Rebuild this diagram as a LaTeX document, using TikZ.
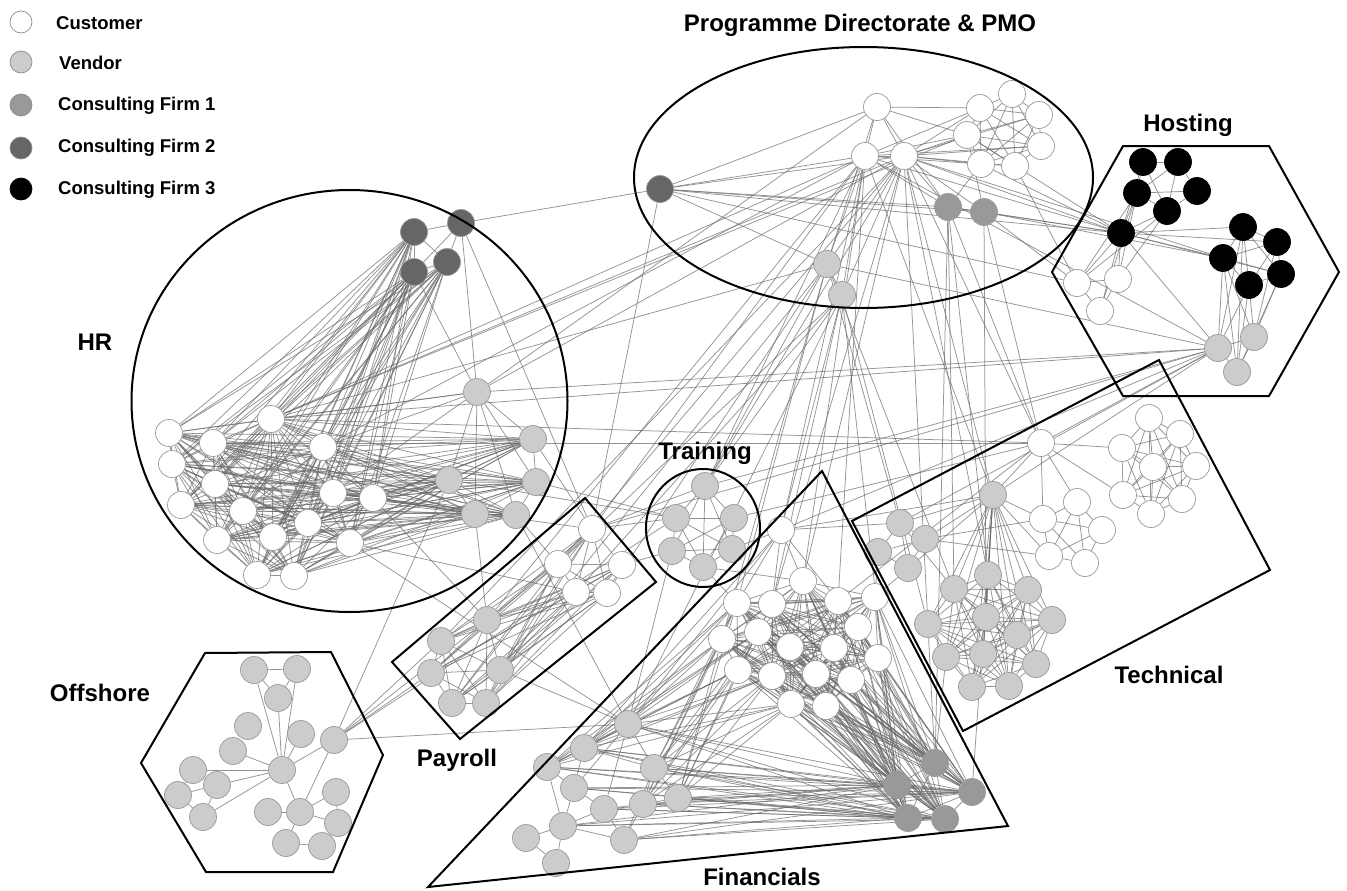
\documentclass[tikz,border=0pt]{standalone}
\usepackage{fontspec}
\setmainfont{Liberation Sans}
\usetikzlibrary{backgrounds}
\pgfdeclarelayer{edges}
\pgfsetlayers{background,edges,main}
\definecolor{cvend}{gray}{0.8}
\definecolor{cfone}{gray}{0.6}
\definecolor{cftwo}{gray}{0.4}
\definecolor{nbord}{gray}{0.6}
\definecolor{edgecol}{gray}{0.42}
\tikzset{
 nodebase/.style={circle, inner sep=0pt, minimum size=27pt, line width=0.7pt, draw=nbord},
 cust/.style={nodebase, fill=white},
 vend/.style={nodebase, fill=cvend},
 cfa/.style={nodebase, fill=cfone},
 cfb/.style={nodebase, fill=cftwo},
 cfc/.style={nodebase, fill=black, draw=black},
 lnk/.style={draw=edgecol, line width=0.75pt, draw opacity=0.72},
 grp/.style={draw=black, line width=2pt, line join=miter},
 grouplabel/.style={font=\bfseries\fontsize{24}{28}\selectfont, inner sep=0pt},
 legendtext/.style={font=\bfseries\fontsize{18.5}{22}\selectfont, anchor=west, inner sep=0pt},
 legendnode/.style={minimum size=22pt, draw=gray!90}
}
\newcommand{\AllPairs}[2]{\foreach \i in {1,...,#2}{\foreach \j in {1,...,#2}{\ifnum\i<\j\relax \draw[lnk] (#1\i) -- (#1\j);\fi}}}
\newcommand{\CrossLinks}[4]{\foreach \i in {#2}{\foreach \j in {#4}{\draw[lnk] (#1\i) -- (#3\j);}}}
\begin{document}
\begin{tikzpicture}[x=1pt,y=-1pt]
\useasboundingbox (0,0) rectangle (1347,891);
\begin{pgfonlayer}{background}
\fill[white] (0,0) rectangle (1347,891);
\end{pgfonlayer}

% Legend
\node[cust,legendnode] (lg1) at (21,22) {};
\node[vend,legendnode] (lg2) at (21,62) {};
\node[cfa,legendnode] (lg3) at (21,105) {};
\node[cfb,legendnode] (lg4) at (21,148) {};
\node[cfc,legendnode,draw=black] (lg5) at (21,189) {};
\node[legendtext] (lt1) at (56,23) {Customer};
\node[legendtext] (lt2) at (59,63) {Vendor};
\node[legendtext] (lt3) at (58,106) {Consulting Firm 1};
\node[legendtext] (lt4) at (58,148) {Consulting Firm 2};
\node[legendtext] (lt5) at (58,190) {Consulting Firm 3};

% PMO
\node[cust] (p1) at (877,107) {};
\node[cust] (p2) at (865,156) {};
\node[cust] (p3) at (904,156) {};
\node[cust] (pw1) at (980,108) {};
\node[cust] (pw2) at (1012,94) {};
\node[cust] (pw3) at (1039,115) {};
\node[cust] (pw4) at (967,135) {};
\node[cust] (pw5) at (1041,146) {};
\node[cust] (pw6) at (981,164) {};
\node[cust] (pw7) at (1015,166) {};
\node[cfb] (pk) at (660,189) {};
\node[cfa] (pm1) at (948,207) {};
\node[cfa] (pm2) at (984,212) {};
\node[vend] (pv1) at (827,264) {};
\node[vend] (pv2) at (842,295) {};

% Hosting
\node[cfc] (h1) at (1143,162) {};
\node[cfc] (h2) at (1178,162) {};
\node[cfc] (h3) at (1137,193) {};
\node[cfc] (h4) at (1197,191) {};
\node[cfc] (h5) at (1167,211) {};
\node[cfc] (h6) at (1121,233) {};
\node[cfc] (h7) at (1243,227) {};
\node[cfc] (h8) at (1277,242) {};
\node[cfc] (h9) at (1223,258) {};
\node[cfc] (h10) at (1281,274) {};
\node[cfc] (h11) at (1249,285) {};
\node[cust] (hw1) at (1077,283) {};
\node[cust] (hw2) at (1118,279) {};
\node[cust] (hw3) at (1100,311) {};
\node[vend] (hv1) at (1218,348) {};
\node[vend] (hv2) at (1254,337) {};
\node[vend] (hv3) at (1237,372) {};

% HR
\node[cfb] (r1) at (414,232) {};
\node[cfb] (r2) at (461,223) {};
\node[cfb] (r3) at (414,272) {};
\node[cfb] (r4) at (447,262) {};
\node[vend] (rv0) at (477,392) {};
\node[cust] (rw1) at (169,433) {};
\node[cust] (rw2) at (213,443) {};
\node[cust] (rw3) at (271,419) {};
\node[cust] (rw4) at (172,464) {};
\node[cust] (rw5) at (215,484) {};
\node[cust] (rw6) at (323,447) {};
\node[cust] (rw7) at (181,505) {};
\node[cust] (rw8) at (243,511) {};
\node[cust] (rw9) at (333,493) {};
\node[cust] (rw10) at (373,498) {};
\node[cust] (rw11) at (308,523) {};
\node[cust] (rw12) at (217,540) {};
\node[cust] (rw13) at (273,537) {};
\node[cust] (rw14) at (350,543) {};
\node[cust] (rw15) at (257,575) {};
\node[cust] (rw16) at (294,576) {};
\node[vend] (rv1) at (533,439) {};
\node[vend] (rv2) at (449,480) {};
\node[vend] (rv3) at (536,482) {};
\node[vend] (rv4) at (475,514) {};
\node[vend] (rv5) at (516,515) {};

% Payroll
\node[cust] (yw1) at (592,529) {};
\node[cust] (yw2) at (558,564) {};
\node[cust] (yw3) at (622,565) {};
\node[cust] (yw4) at (576,592) {};
\node[cust] (yw5) at (607,593) {};
\node[vend] (yv1) at (487,620) {};
\node[vend] (yv2) at (441,641) {};
\node[vend] (yv3) at (431,673) {};
\node[vend] (yv4) at (500,670) {};
\node[vend] (yv5) at (452,703) {};
\node[vend] (yv6) at (486,703) {};

% Training
\node[vend] (t1) at (705,486) {};
\node[vend] (t2) at (676,518) {};
\node[vend] (t3) at (734,518) {};
\node[vend] (t4) at (672,551) {};
\node[vend] (t5) at (732,549) {};
\node[vend] (t6) at (703,567) {};

% Financials
\node[cust] (fw0) at (781,530) {};
\node[cust] (fw1) at (803,581) {};
\node[cust] (fw2) at (737,603) {};
\node[cust] (fw3) at (772,604) {};
\node[cust] (fw4) at (838,601) {};
\node[cust] (fw5) at (875,597) {};
\node[cust] (fw6) at (722,639) {};
\node[cust] (fw7) at (758,632) {};
\node[cust] (fw8) at (790,647) {};
\node[cust] (fw9) at (834,648) {};
\node[cust] (fw10) at (858,627) {};
\node[cust] (fw11) at (878,658) {};
\node[cust] (fw12) at (738,670) {};
\node[cust] (fw13) at (772,676) {};
\node[cust] (fw14) at (816,674) {};
\node[cust] (fw15) at (851,680) {};
\node[cust] (fw16) at (791,704) {};
\node[cust] (fw17) at (826,706) {};
\node[cfa] (fc1) at (935,763) {};
\node[cfa] (fc2) at (897,785) {};
\node[cfa] (fc3) at (972,792) {};
\node[cfa] (fc4) at (908,818) {};
\node[cfa] (fc5) at (945,819) {};
\node[vend] (fv1) at (628,724) {};
\node[vend] (fv2) at (584,748) {};
\node[vend] (fv3) at (547,767) {};
\node[vend] (fv4) at (574,788) {};
\node[vend] (fv5) at (654,768) {};
\node[vend] (fv6) at (678,798) {};
\node[vend] (fv7) at (643,804) {};
\node[vend] (fv8) at (604,809) {};
\node[vend] (fv9) at (563,826) {};
\node[vend] (fv10) at (624,840) {};
\node[vend] (fv11) at (526,838) {};
\node[vend] (fv12) at (556,863) {};

% Technical
\node[cust] (tw0) at (1041,443) {};
\node[vend] (tv0) at (993,495) {};
\node[vend] (tl1) at (900,523) {};
\node[vend] (tl2) at (925,539) {};
\node[vend] (tl3) at (878,552) {};
\node[vend] (tl4) at (908,568) {};
\node[cust] (tp1) at (1077,502) {};
\node[cust] (tp2) at (1043,519) {};
\node[cust] (tp3) at (1102,530) {};
\node[cust] (tp4) at (1049,556) {};
\node[cust] (tp5) at (1085,563) {};
\node[cust] (tr1) at (1149,418) {};
\node[cust] (tr2) at (1122,448) {};
\node[cust] (tr3) at (1180,434) {};
\node[cust] (tr4) at (1153,467) {};
\node[cust] (tr5) at (1196,466) {};
\node[cust] (tr6) at (1123,495) {};
\node[cust] (tr7) at (1182,499) {};
\node[cust] (tr8) at (1151,514) {};
\node[vend] (tb1) at (988,575) {};
\node[vend] (tb2) at (954,589) {};
\node[vend] (tb3) at (1028,590) {};
\node[vend] (tb4) at (928,624) {};
\node[vend] (tb5) at (986,617) {};
\node[vend] (tb6) at (1052,620) {};
\node[vend] (tb7) at (1017,635) {};
\node[vend] (tb8) at (946,657) {};
\node[vend] (tb9) at (983,654) {};
\node[vend] (tb10) at (1036,664) {};
\node[vend] (tb11) at (972,687) {};
\node[vend] (tb12) at (1009,686) {};

% Offshore
\node[vend] (o1) at (254,670) {};
\node[vend] (o2) at (297,669) {};
\node[vend] (o3) at (278,698) {};
\node[vend] (o4) at (248,726) {};
\node[vend] (o5) at (301,734) {};
\node[vend] (o6) at (233,751) {};
\node[vend] (o7) at (334,740) {};
\node[vend] (o8) at (282,770) {};
\node[vend] (o9) at (193,770) {};
\node[vend] (o10) at (178,795) {};
\node[vend] (o11) at (217,785) {};
\node[vend] (o12) at (203,817) {};
\node[vend] (o13) at (268,812) {};
\node[vend] (o14) at (300,812) {};
\node[vend] (o15) at (336,792) {};
\node[vend] (o16) at (338,823) {};
\node[vend] (o17) at (286,843) {};
\node[vend] (o18) at (322,846) {};

\begin{pgfonlayer}{edges}
% PMO internal
\AllPairs{pw}{7}
\foreach \a/\b in {p1/p2,p1/p3,p1/pw1,p1/pw4,p1/pk,p1/pm1,p1/pv1,p2/p3,p2/pw1,p2/pw4,p2/pw5,p2/pw6,p3/pw1,p3/pw4,p3/pw6,p3/pw7,p3/pw5,p3/pw3,p2/pm1,p3/pm1,p3/pm2,p2/pv1,p3/pv1,p2/pv2,p3/pv2,pm1/pm2,pk/p2,pk/p3,pk/pm1,pk/pm2,pk/pv1,pv1/pv2,pw4/pm2,pw6/pm1}
  \draw[lnk] (\a) -- (\b);
% Hosting internal
\foreach \a/\b in {h1/h2,h1/h3,h1/h5,h2/h4,h2/h5,h3/h4,h3/h5,h3/h6,h4/h5,h5/h6,h1/h6,h2/h3,h6/h7,h6/h9,h6/h8,h6/h10,h7/h8,h7/h9,h7/h10,h7/h11,h8/h10,h8/h11,h9/h11,h9/h10,h10/h11,h8/h9,hw1/hw2,hw1/hw3,hw2/hw3,hw1/h6,hw2/h6,hw3/h6,hw1/h3,hw2/h5,hw3/h3,hw2/h3,hw1/h5,hv1/hv2,hv1/hv3,hv2/hv3,hv1/h9,hv1/h11,hv1/h7,hv2/h11,hv2/h10,hv2/h9,hv3/h9,hv3/h11,hv3/h7,hv1/h6,hv2/h8,hv3/h10}
  \draw[lnk] (\a) -- (\b);
% HR internal
\AllPairs{rw}{16}
\CrossLinks{rw}{1,...,16}{rv}{1,...,5}
\CrossLinks{r}{1,3,4}{rw}{1,...,16}
\foreach \a/\b in {r1/r2,r1/r3,r1/r4,r2/r3,r2/r4,r3/r4,r2/rv0,rv0/rv1,rv0/rv2,rv0/rv3,rv0/rv4,rv0/rv5,rv0/rw3,rv0/rw6,rv0/rw1,rv0/rw9,rv1/rv2,rv1/rv3,rv2/rv3,rv2/rv4,rv4/rv5,rv3/rv5,rv2/rv5,rv3/rv4,r3/rv0}
  \draw[lnk] (\a) -- (\b);
% Payroll internal
\AllPairs{yw}{5}
\AllPairs{yv}{6}
\CrossLinks{yw}{1,...,5}{yv}{1,...,6}
% Training internal
\AllPairs{t}{6}
% Financials internal
\AllPairs{fw}{17}
\AllPairs{fc}{5}
\CrossLinks{fc}{1,...,5}{fw}{1,...,17}
\CrossLinks{fv}{1,...,10}{fc}{2,3,4,5}
\CrossLinks{fv}{1,2,3,5,6,7}{fw}{2,6,12,7,13,16}
\foreach \a/\b in {fw0/fw1,fw0/fw2,fw0/fw3,fw0/fw4,fw0/fv1,fw0/fv2,fv1/fv2,fv1/fv5,fv1/fv4,fv1/fv3,fv1/fv8,fv2/fv3,fv2/fv4,fv3/fv4,fv3/fv9,fv4/fv8,fv4/fv9,fv5/fv6,fv5/fv7,fv6/fv7,fv7/fv8,fv8/fv10,fv9/fv10,fv9/fv11,fv9/fv12,fv11/fv12,fv9/fv8,fv5/fv10,fv7/fv10,fv2/fv5}
  \draw[lnk] (\a) -- (\b);
% Technical internal
\AllPairs{tb}{12}
\AllPairs{tp}{5}
\AllPairs{tr}{8}
\CrossLinks{tv}{0}{tb}{1,...,12}
\foreach \a/\b in {tv0/tl1,tv0/tl2,tv0/tw0,tv0/tp2,tv0/tp4,tl1/tl2,tl1/tl3,tl2/tl3,tl2/tl4,tl3/tl4,tl1/tl4,tw0/tp2,tw0/tr2,tw0/tr6,tw0/tp1,tl2/tp2,tl2/tp4,tl1/tb2}
  \draw[lnk] (\a) -- (\b);
% Offshore internal
\foreach \a/\b in {o1/o2,o1/o3,o2/o3,o1/o8,o2/o8,o3/o8,o5/o8,o6/o8,o7/o8,o7/o14,o9/o10,o9/o11,o10/o11,o10/o12,o11/o12,o9/o8,o11/o8,o12/o8,o8/o14,o13/o14,o14/o15,o14/o16,o14/o17,o17/o18,o16/o18,o15/o16}
  \draw[lnk] (\a) -- (\b);
% Cross-group links
\foreach \a/\b in {pk/yw1,pk/r2,pk/h6,pk/hw1,p2/yw1,p2/yv1,p2/rw3,p2/rw6,p2/t1,p2/tv0,p2/fw0,p2/fw1,p2/fw4,p2/hv1,p3/h6,p3/yw2,p3/yv2,p3/rw3,p3/tv0,p3/tw0,p3/tb1,p3/fw1,p3/fw3,p3/t1,p3/fc1,p3/rv0,p1/rv0,pm1/fc1,pm1/tb2,pm1/h6,pm1/tw0,pm2/h6,pm2/tb5,pm2/hw1,pm2/tw0,pm2/h9,pv1/yw5,pv1/yv4,pv1/fw2,pv1/fw6,pv1/t1,pv1/hv1,pv1/tl1,pv1/rw3,pv2/yw4,pv2/t1,pv2/fw0,pv2/fw3,pv2/fv1,pv2/yw2,pv2/fc2,pv2/tb4,h6/pw4,h6/pw6,h6/p2,h9/p3,hw1/pw7,hv1/rv0,hv1/t1,hv1/fw0,hv1/yw1,hv1/tw0,hv1/tv0,hv1/tl1,hv1/rw3,rw3/pw4,rw3/tw0,rw2/tw0,r2/yw1,rv2/o7,rv2/t2,rv4/yv1,rv5/fv1,rv5/yw2,rw14/fv1,rw14/yw4,rv3/t2,rv1/yw1,yw1/t2,yw1/t1,yw3/t4,yv4/fv1,yv2/o7,yv3/o7,yv1/o7,o7/fv1,o7/t2,t5/fw0,t6/fw1,t3/tw0,t4/fv1,t6/fw2,fw0/tv0,fw0/tl1,fw5/tl3,fw5/tv0,fc3/tv0,fc1/tb8,tb2/pv1,tb1/pm1,fw4/tw0,rw10/yv1,rw9/yw1}
  \draw[lnk] (\a) -- (\b);
\end{pgfonlayer}

% Group outlines
\draw[grp] (863.5,177.5) ellipse [x radius=229.5pt, y radius=130.5pt];
\draw[grp] (349.5,401) ellipse [x radius=218pt, y radius=211pt];
\draw[grp] (703,528) ellipse [x radius=57pt, y radius=59pt];
\draw[grp] (1123,146) -- (1269,146) -- (1339,272) -- (1269,396) -- (1123,396) -- (1052,272) -- cycle;
\draw[grp] (205,653) -- (331,652) -- (383,755) -- (333,872) -- (206,872) -- (141,763) -- cycle;
\draw[grp] (585,498) -- (656,582) -- (460,739) -- (392,662) -- cycle;
\draw[grp] (1159,360) -- (1270,570) -- (963,731) -- (852,521) -- cycle;
\draw[grp] (822,471) -- (1008,826) -- (428,887) -- cycle;

% Group labels
\node[grouplabel] (lbpmo) at (860,25) {Programme Directorate \& PMO};
\node[grouplabel] (lbhost) at (1188,125) {Hosting};
\node[grouplabel] (lbhr) at (95,342) {HR};
\node[grouplabel] (lbtrain) at (705,453) {Training};
\node[grouplabel] (lboff) at (100,693) {Offshore};
\node[grouplabel] (lbpay) at (457,760) {Payroll};
\node[grouplabel] (lbtech) at (1169,675) {Technical};
\node[grouplabel] (lbfin) at (762,877) {Financials};
\end{tikzpicture}
\end{document}
